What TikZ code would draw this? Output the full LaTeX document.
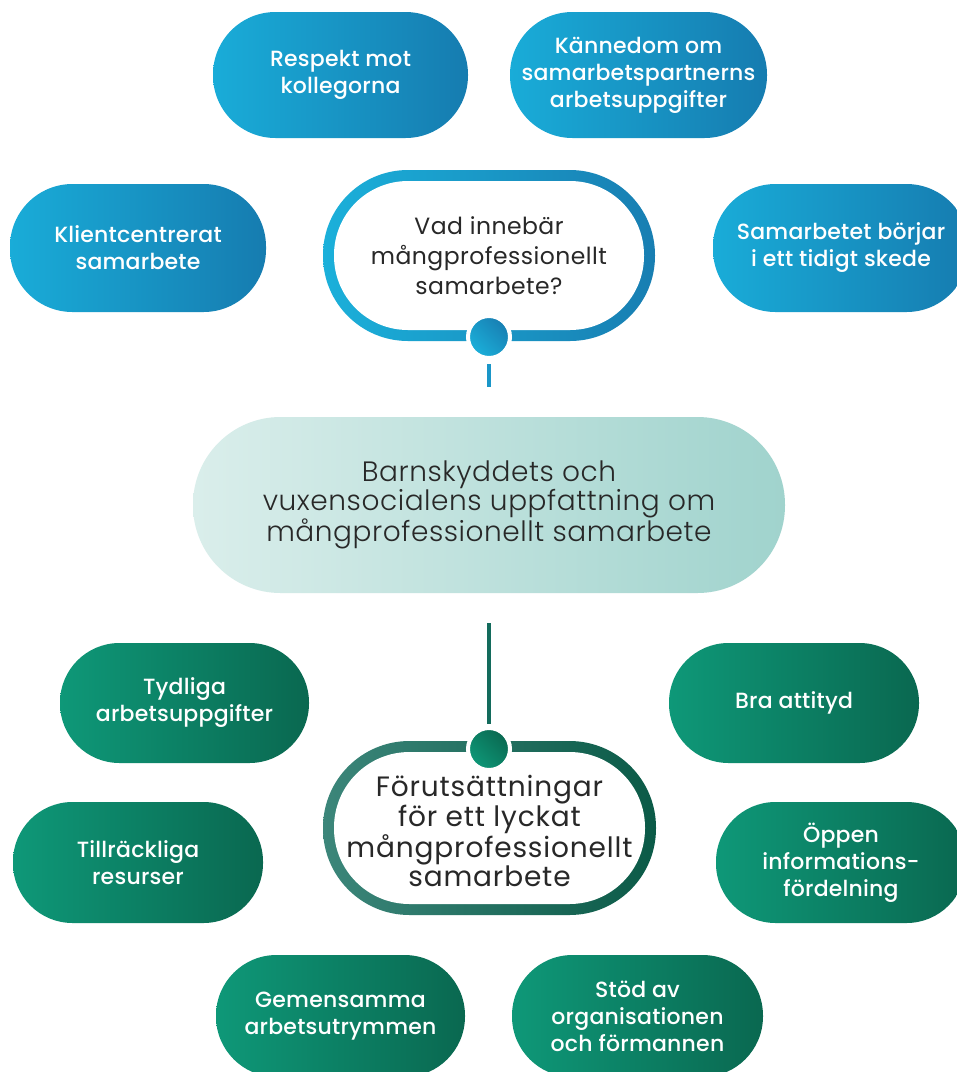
\documentclass[tikz,border=0pt]{standalone}
\usepackage{fontspec}
\setmainfont{Poppins}
\newfontfamily\medfont{Poppins Medium}[LetterSpace=1]
\newfontfamily\qfont{Poppins}[LetterSpace=2]
\newfontfamily\qbfont{Poppins}[LetterSpace=3]
\newfontfamily\lightfont{Poppins Light}[LetterSpace=2]
\usetikzlibrary{positioning}
\definecolor{bluel}{RGB}{25,172,216}
\definecolor{bluer}{RGB}{22,124,176}
\definecolor{greenl}{RGB}{14,152,120}
\definecolor{greenr}{RGB}{10,104,80}
\definecolor{centl}{RGB}{218,238,235}
\definecolor{centr}{RGB}{160,211,205}
\definecolor{tstrokel}{RGB}{27,176,218}
\definecolor{tstroker}{RGB}{24,126,178}
\definecolor{bstrokel}{RGB}{60,134,122}
\definecolor{bstroker}{RGB}{11,90,71}
\definecolor{tline}{RGB}{26,150,200}
\definecolor{bline}{RGB}{19,107,92}
\definecolor{darktext}{RGB}{40,40,40}
\tikzset{
  pill/.style={align=center, text=white, inner sep=0pt,
    font=\medfont\fontsize{22}{27}\selectfont},
  bluepill/.style={pill, left color=bluel, right color=bluer,
    minimum height=126pt, rounded corners=62.5pt},
  greenpill/.style={pill, left color=greenl, right color=greenr,
    minimum height=120pt, rounded corners=59.5pt},
  outerring/.style={inner sep=0pt},
  innerwhite/.style={fill=white, inner sep=0pt, align=center, text=darktext},
  dot/.style={circle, inner sep=0pt, minimum size=42pt, draw=white, line width=4pt},
}
\begin{document}
\begin{tikzpicture}[x=1pt,y=-1pt]
\useasboundingbox (0,0) rectangle (957,1072);
\fill[white] (0,0) rectangle (957,1072);

% blue pills
\node[bluepill, minimum width=255pt] (b1) at (340.5,75) {Respekt mot\\kollegorna};
\node[bluepill, minimum width=257pt] (b2) at (638.5,75) {Kännedom om\\samarbetspartnerns\\arbetsuppgifter};
\node[bluepill, minimum width=256pt, minimum height=128pt] (b3) at (138,248) {Klientcentrerat\\samarbete};
\node[bluepill, minimum width=256pt, minimum height=128pt] (b4) at (841,248) {Samarbetet börjar\\i ett tidigt skede};

% top outlined question
\node[outerring, minimum width=332pt, minimum height=171pt, rounded corners=85pt,
  left color=tstrokel, right color=tstroker] (q1o) at (489,255.5) {};
\node[innerwhite, minimum width=310pt, minimum height=149pt, rounded corners=74pt,
  font=\qfont\fontsize{23.5}{30}\selectfont] (q1) at (489,255.5) {Vad innebär\\mångprofessionellt\\samarbete?};
\node[dot, left color=tstrokel, right color=tstroker, shading angle=135] (c1) at (489,337) {};
\coordinate (t1) at (489,387);
\draw[tline, line width=4.5pt] ([yshift=-4pt]c1.south) -- (t1);

% central pill
\node[align=center, inner sep=0pt, left color=centl, right color=centr,
  minimum width=592pt, minimum height=176pt, rounded corners=87.5pt, text=darktext,
  font=\lightfont\fontsize{28}{29.5}\selectfont] (m) at (489,505)
  {Barnskyddets och\\vuxensocialens uppfattning om\\mångprofessionellt samarbete};

% bottom outlined
\node[outerring, minimum width=333pt, minimum height=174pt, rounded corners=86.5pt,
  left color=bstrokel, right color=bstroker] (q2o) at (489.5,828) {};
\node[fill=white, minimum width=311pt, minimum height=152pt, rounded corners=75.5pt] (q2i) at (489.5,828) {};
\node[align=center, inner sep=0pt, text=darktext,
  font=\qbfont\fontsize{28}{28.5}\selectfont] (q2) at (489.5,831) {Förutsättningar\\för ett lyckat\\mångprofessionellt\\samarbete};
\node[dot, left color=greenl, right color=greenr, shading angle=135] (c2) at (489,749) {};
\coordinate (t2) at (489,623);
\draw[bline, line width=4.5pt] (t2) -- ([yshift=2pt]c2.north);

% green pills
\node[greenpill, minimum width=249pt] (g1) at (184.5,703) {Tydliga\\arbetsuppgifter};
\node[greenpill, minimum width=250pt] (g2) at (794,703) {Bra attityd};
\node[greenpill, minimum width=250pt, minimum height=121pt] (g3) at (138,862.5) {Tillräckliga\\resurser};
\node[greenpill, minimum width=250pt, minimum height=121pt] (g4) at (841,862.5) {Öppen\\informations-\\fördelning};
\node[greenpill, minimum width=249pt, minimum height=122pt, rounded corners=60.5pt] (g5) at (340.5,1016) {Gemensamma\\arbetsutrymmen};
\node[greenpill, minimum width=251pt, minimum height=122pt, rounded corners=60.5pt] (g6) at (637.5,1016) {Stöd av\\organisationen\\och förmannen};
\end{tikzpicture}
\end{document}
